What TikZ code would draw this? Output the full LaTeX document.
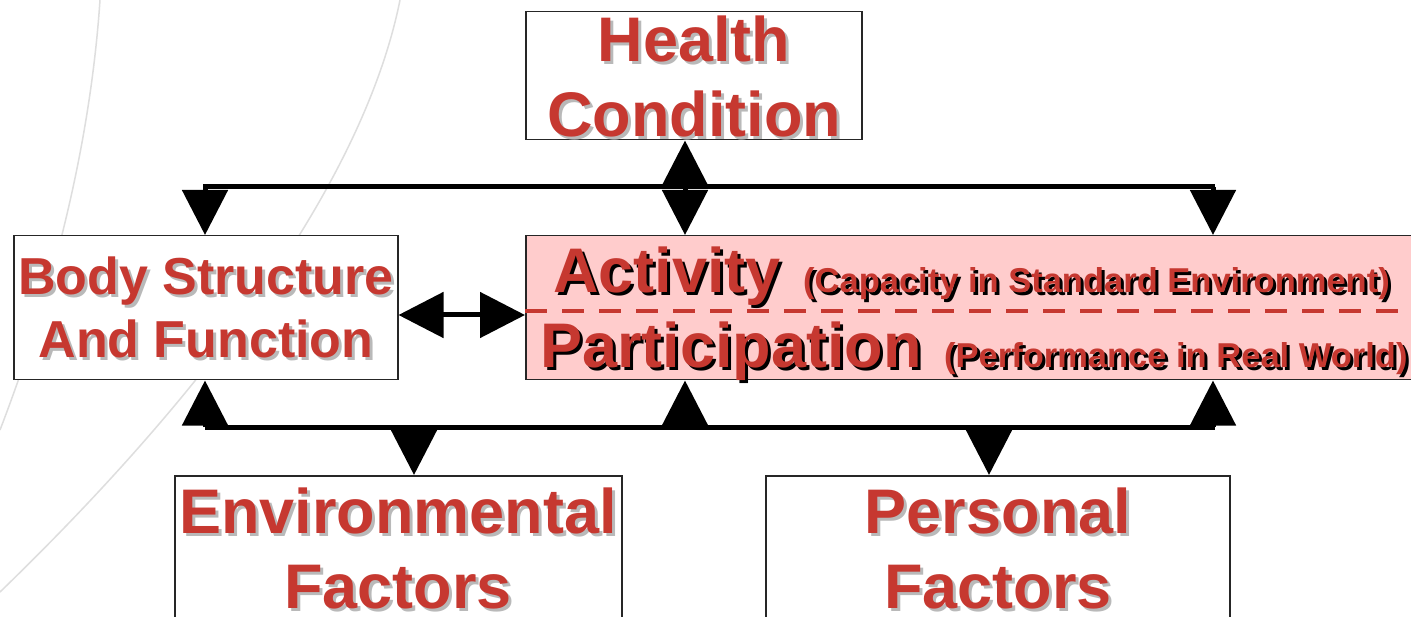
\documentclass[tikz,border=0pt]{standalone}
\usepackage{fontspec}
\setmainfont{Liberation Sans}
\usetikzlibrary{arrows.meta,calc}
\definecolor{ired}{RGB}{198,56,48}
\definecolor{ipink}{RGB}{255,204,204}
\definecolor{ishadow}{RGB}{185,185,185}
\definecolor{iarc}{RGB}{222,222,222}
\newcommand\shtxt[2]{\makebox[0pt][l]{\hspace*{3pt}\raisebox{-3pt}{\textcolor{#1}{#2}}}\textcolor{ired}{#2}}
\tikzset{
  box/.style={draw=black!85, line width=1.5pt, inner sep=0pt, anchor=north west},
  big/.style={inner sep=0pt, font=\fontsize{63}{75}\bfseries\selectfont},
  mid/.style={inner sep=0pt, font=\fontsize{52}{60}\bfseries\selectfont},
  small/.style={inner sep=0pt, font=\fontsize{34.5}{40}\bfseries\selectfont},
  bar/.style={line width=5pt, black},
  tri/.style={line width=5pt, -{Triangle[length=45pt,width=45pt]}},
  dtri/.style={line width=5pt, {Triangle[length=45pt,width=45pt]}-{Triangle[length=45pt,width=45pt]}},
  arc/.style={draw=iarc, line width=1.5pt}
}
\begin{document}
\begin{tikzpicture}[x=1pt,y=-1pt]
\useasboundingbox (0,0) rectangle (1411,617);
\clip (0,0) rectangle (1411,617);
\fill[white] (0,0) rectangle (1411,617);
% background arcs
\draw[arc] (100,0) .. controls (90,150) and (50,300) .. (0,430);
\draw[arc] (400,0) .. controls (370,150) and (250,350) .. (0,592);
% boxes
\node[box, fill=white, minimum width=336pt, minimum height=128pt] (hc) at (525,11) {};
\node[box, fill=white, minimum width=384pt, minimum height=144pt] (bsf) at (13,235) {};
\node[box, fill=ipink, minimum width=900pt, minimum height=144pt] (ap) at (525,235) {};
\node[box, fill=white, minimum width=447pt, minimum height=180pt] (env) at (174,475) {};
\node[box, fill=white, minimum width=464pt, minimum height=180pt] (pf) at (765,475) {};
% dashed divider
\coordinate (dl) at (525,311);
\coordinate (dr) at (1411,311);
\draw[ired, line width=4pt, dash pattern=on 22pt off 15pt] (dl) -- (dr);
% texts
\node[big, anchor=base] (t1) at (694,62) {\shtxt{ishadow}{Health}};
\node[big, anchor=base] (t2) at (694,137) {\shtxt{ishadow}{Condition}};
\node[mid, anchor=base] (t3) at (206,295) {\shtxt{ishadow}{Body Structure}};
\node[mid, anchor=base] (t4) at (206,358) {\shtxt{ishadow}{And Function}};
\node[big, anchor=base west] (t5) at (553,293) {\shtxt{black}{Activity}};
\node[small, anchor=base west] (t6) at (803,293) {\shtxt{black}{(Capacity in Standard Environment)}};
\node[big, anchor=base west] (t7) at (540,368) {\shtxt{black}{Participation}};
\node[small, anchor=base west] (t8) at (944,368) {\shtxt{black}{(Performance in Real World)}};
\node[big, anchor=base] (t9) at (398,533) {\shtxt{ishadow}{Environmental}};
\node[big, anchor=base] (t10) at (398,608) {\shtxt{ishadow}{Factors}};
\node[big, anchor=base] (t11) at (998,533) {\shtxt{ishadow}{Personal}};
\node[big, anchor=base] (t12) at (998,608) {\shtxt{ishadow}{Factors}};
% top bar
\coordinate (tl) at (205,187);
\coordinate (tc) at (685,187);
\coordinate (tr) at (1213,187);
\coordinate (tre) at (1215,187);
\draw[bar] (203,187) -- (tre);
\draw[tri] (tl) -- (tl |- bsf.north);
\draw[tri] (tr) -- (tr |- ap.north);
\draw[dtri] (tc |- hc.south) -- (tc |- ap.north);
% middle double arrow
\coordinate (ml) at (397,315);
\draw[dtri] (bsf.east |- ml) -- (ap.west |- ml);
% bottom bar
\coordinate (bl) at (205,427);
\coordinate (bc) at (685,427);
\coordinate (br) at (1213,427);
\coordinate (be) at (414,427);
\coordinate (bp) at (989,427);
\draw[bar] (bl) -- (1215,427);
\draw[tri] (bl) -- (bl |- bsf.south);
\draw[tri] (bc) -- (bc |- ap.south);
\draw[tri] (br) -- (br |- ap.south);
\draw[tri] (be) -- (be |- env.north);
\draw[tri] (bp) -- (bp |- pf.north);
\end{tikzpicture}
\end{document}
